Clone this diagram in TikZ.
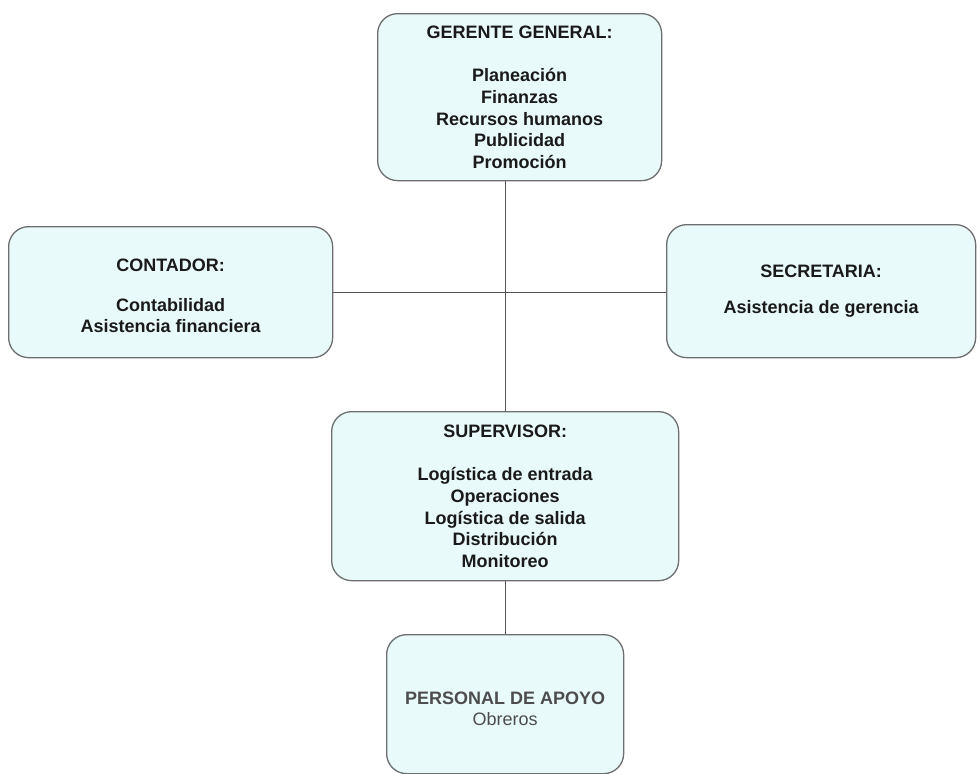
\documentclass[tikz,border=0pt]{standalone}
\usepackage{fontspec}
\setmainfont{Liberation Sans}
\definecolor{boxfill}{HTML}{E9FAFA}
\definecolor{boxline}{HTML}{6E6E6E}
\definecolor{connline}{HTML}{555555}
\definecolor{txt}{HTML}{1A1A1A}
\definecolor{greytxt}{HTML}{4D4D4D}
\begin{document}
\begin{tikzpicture}[x=1pt,y=-1pt,
  box/.style={draw=boxline, fill=boxfill, line width=1.3pt, rounded corners=20pt,
    inner sep=0pt, align=center, anchor=north west, text=txt,
    font=\fontsize{18}{21.7}\selectfont\bfseries},
  conn/.style={draw=connline, line width=1pt}]
\useasboundingbox (0,0) rectangle (978,774);
\fill[white] (0,0) rectangle (978,774);

\node[box, minimum width=284pt, minimum height=167pt] (ger) at (377,13)
  {GERENTE GENERAL:\\[21.7pt]Planeación\\Finanzas\\Recursos humanos\\Publicidad\\Promoción};
\node[box, minimum width=324pt, minimum height=131pt] (cont) at (8,226)
  {\rule{0pt}{20pt}CONTADOR:\\[18pt]Contabilidad\\Asistencia financiera};
\node[box, minimum width=309pt, minimum height=133pt] (sec) at (666,224)
  {SECRETARIA:\\[14pt]Asistencia de gerencia};
\node[box, minimum width=347pt, minimum height=169pt] (sup) at (331,411)
  {SUPERVISOR:\\[21.7pt]Logística de entrada\\Operaciones\\Logística de salida\\Distribución\\Monitoreo};
\node[box, minimum width=237pt, minimum height=139pt, text=greytxt] (per) at (386,634)
  {\rule{0pt}{22pt}PERSONAL DE APOYO\\{\mdseries Obreros}};

\draw[conn] (sup.north) -- (sup.north |- ger.south);
\draw[conn] (cont.east) -- (cont.east -| sec.west);
\draw[conn] (sup.south) -- (per.north -| sup.south);
\end{tikzpicture}
\end{document}
